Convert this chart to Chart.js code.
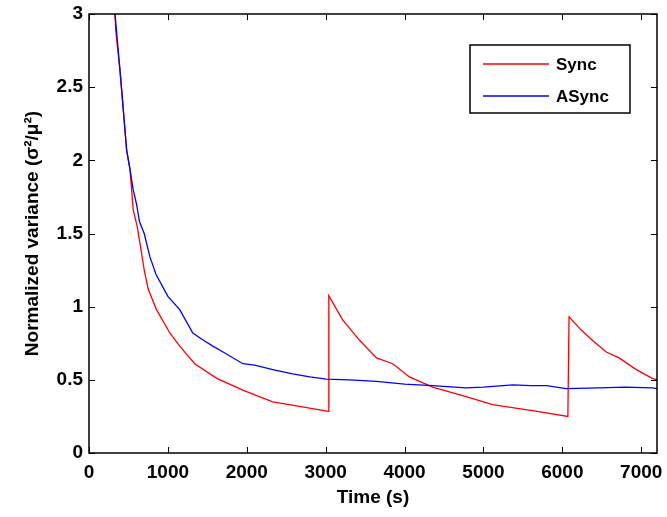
<!DOCTYPE html>
<html>
<head>
<meta charset="utf-8">
<script src="https://cdn.jsdelivr.net/npm/chart.js@4.4.0/dist/chart.umd.min.js"></script>
<style>
  html, body { margin: 0; padding: 0; background: #fff; }
  #wrap { width: 667px; height: 517px; }
</style>
</head>
<body>
<div id="wrap"><canvas id="varChart" width="667" height="517"></canvas></div>
<script>
// values
const syncTime = [300, 340, 392, 434, 477, 519, 561, 610, 650, 700, 750, 855, 1025, 1150, 1340, 1620, 1950, 2330, 2760, 3035,
  3040, 3215, 3430, 3645, 3850, 4063, 4355, 4780, 5115, 5620, 6070,
  6085, 6240, 6380, 6557, 6720, 6937, 7140, 7200];
const syncVals = [3.3, 2.88, 2.62, 2.35, 2.07, 1.94, 1.66, 1.55, 1.42, 1.25, 1.12, 0.98, 0.82, 0.73, 0.61, 0.51, 0.43, 0.35, 0.31, 0.285,
  1.075, 0.91, 0.77, 0.65, 0.61, 0.52, 0.45, 0.385, 0.33, 0.29, 0.25,
  0.93, 0.84, 0.77, 0.69, 0.65, 0.57, 0.51, 0.50];

const asyncTime = [300, 330, 392, 434, 477, 519, 560, 603, 640, 700, 772, 850, 1000, 1150, 1316, 1450, 1570, 1700, 1950, 2100,
  2330, 2580, 2800, 3010, 3300, 3645, 4000, 4355, 4780, 5000, 5370, 5600, 5800, 6050, 6470, 6800, 7140, 7200];
const asyncVals = [3.3, 3.0, 2.62, 2.35, 2.07, 1.94, 1.80, 1.70, 1.58, 1.50, 1.34, 1.22, 1.07, 0.98, 0.82, 0.77, 0.73, 0.69, 0.61, 0.60,
  0.57, 0.54, 0.52, 0.505, 0.50, 0.49, 0.47, 0.46, 0.445, 0.45, 0.465, 0.46, 0.46, 0.44, 0.445, 0.45, 0.445, 0.44];

const xTicks = [0, 1000, 2000, 3000, 4000, 5000, 6000, 7000];
const yTicks = [0, 0.5, 1, 1.5, 2, 2.5, 3];

const FONT = 'Liberation Sans, Arial, sans-serif';

function toPoints(xs, ys) {
  return xs.map((x, i) => ({ x: x, y: ys[i] }));
}

// MATLAB-like box, inward ticks and legend
const matlabBox = {
  id: 'matlabBox',
  afterDatasetsDraw(chart) {
    const ctx = chart.ctx;
    const a = chart.chartArea;
    const xs = chart.scales.x, ys = chart.scales.y;
    ctx.save();
    ctx.strokeStyle = '#000';
    ctx.lineWidth = 1.5;
    ctx.strokeRect(a.left, a.top, a.right - a.left, a.bottom - a.top);
    ctx.lineWidth = 1;
    const len = 6;
    ctx.beginPath();
    xTicks.forEach(v => {
      const px = Math.round(xs.getPixelForValue(v)) + 0.5;
      ctx.moveTo(px, a.bottom); ctx.lineTo(px, a.bottom - len);
      ctx.moveTo(px, a.top); ctx.lineTo(px, a.top + len);
    });
    yTicks.forEach(v => {
      const py = Math.round(ys.getPixelForValue(v)) + 0.5;
      ctx.moveTo(a.left, py); ctx.lineTo(a.left + len, py);
      ctx.moveTo(a.right, py); ctx.lineTo(a.right - len, py);
    });
    ctx.stroke();

    // legend
    const bx = 470, by = 45, bw = 160, bh = 68;
    ctx.fillStyle = '#fff';
    ctx.fillRect(bx, by, bw, bh);
    ctx.lineWidth = 1.5;
    ctx.strokeRect(bx, by, bw, bh);
    ctx.font = 'bold 17px ' + FONT;
    ctx.textBaseline = 'middle';
    chart.data.datasets.forEach((ds, i) => {
      const yy = by + 19 + i * 32;
      ctx.strokeStyle = ds.borderColor;
      ctx.lineWidth = 1.5;
      ctx.beginPath();
      ctx.moveTo(483, yy); ctx.lineTo(549, yy);
      ctx.stroke();
      ctx.fillStyle = '#000';
      ctx.fillText(ds.label, 556, yy + 1);
    });
    ctx.restore();
  }
};

document.addEventListener('DOMContentLoaded', function () {
  const ctx = document.getElementById('varChart').getContext('2d');
  new Chart(ctx, {
    type: 'line',
    data: {
      datasets: [
        {
          label: 'Sync',
          data: toPoints(syncTime, syncVals),
          borderColor: '#ff0000',
          borderWidth: 1.3,
          pointRadius: 0,
          fill: false,
          order: 1
        },
        {
          label: 'ASync',
          data: toPoints(asyncTime, asyncVals),
          borderColor: '#0000ff',
          borderWidth: 1.3,
          pointRadius: 0,
          fill: false,
          order: 0
        }
      ]
    },
    options: {
      responsive: false,
      animation: false,
      layout: { padding: { top: 14, right: 10, left: 17, bottom: 0 } },
      scales: {
        x: {
          type: 'linear',
          min: 0,
          max: 7200,
          afterBuildTicks: s => { s.ticks = xTicks.map(v => ({ value: v })); },
          afterFit: s => { s.height = 64; s.paddingLeft = 0; s.paddingRight = 0; },
          grid: { display: false, drawTicks: false },
          border: { display: false },
          ticks: { color: '#000', font: { family: FONT, size: 19, weight: 'bold' }, padding: 8, maxRotation: 0,
            callback: v => String(v) },
          title: { display: true, text: 'Time (s)', color: '#000', font: { family: FONT, size: 19, weight: 'bold' }, padding: { top: 0, bottom: 8 } }
        },
        y: {
          min: 0,
          max: 3,
          afterBuildTicks: s => { s.ticks = yTicks.map(v => ({ value: v })); },
          afterFit: s => { s.width = 72; s.paddingTop = 0; s.paddingBottom = 0; },
          grid: { display: false, drawTicks: false },
          border: { display: false },
          ticks: { color: '#000', font: { family: FONT, size: 19, weight: 'bold' }, padding: 6,
            callback: v => String(v) },
          title: { display: true, text: 'Normalized variance (σ²/μ²)', color: '#000', font: { family: FONT, size: 19, weight: 'bold' } }
        }
      },
      plugins: {
        legend: { display: false },
        tooltip: { enabled: false }
      }
    },
    plugins: [matlabBox]
  });
});
</script>
</body>
</html>
